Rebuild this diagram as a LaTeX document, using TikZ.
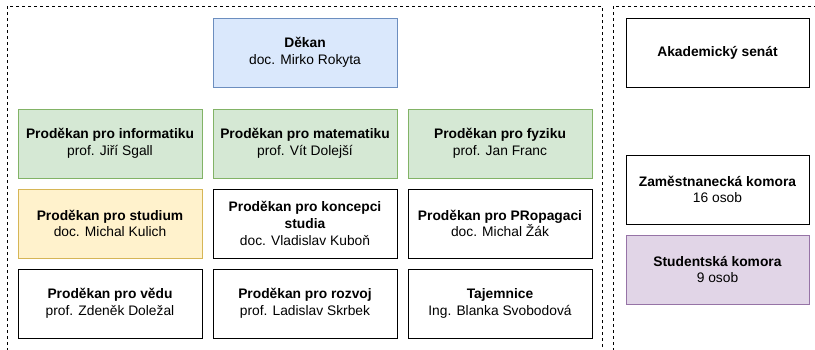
\documentclass[tikz,border=0pt]{standalone}
\usepackage{fontspec}
\setmainfont{Liberation Sans}
\definecolor{bluefill}{HTML}{DAE8FC}\definecolor{bluedraw}{HTML}{6C8EBF}
\definecolor{greenfill}{HTML}{D5E8D4}\definecolor{greendraw}{HTML}{82B366}
\definecolor{yellowfill}{HTML}{FFF2CC}\definecolor{yellowdraw}{HTML}{D6B656}
\definecolor{purplefill}{HTML}{E1D5E7}\definecolor{purpledraw}{HTML}{9673A6}
\tikzset{
  box/.style={draw=black, fill=white, line width=1pt, rectangle, inner sep=0pt,
    minimum width=184pt, minimum height=69pt, align=center,
    font=\fontsize{13.8}{16.6}\selectfont},
  bluebox/.style={box, draw=bluedraw, fill=bluefill},
  greenbox/.style={box, draw=greendraw, fill=greenfill},
  yellowbox/.style={box, draw=yellowdraw, fill=yellowfill},
  purplebox/.style={box, draw=purpledraw, fill=purplefill},
  container/.style={draw=black, line width=1pt, dash pattern=on 3pt off 3pt}
}
\begin{document}
\begin{tikzpicture}[x=1pt,y=-1pt]
\useasboundingbox (0,0) rectangle (815,349);
\begin{scope}
\clip (0,0) rectangle (815,349);
\draw[container] (7,6) rectangle (602,365);
\draw[container] (613,6) rectangle (830,365);
\end{scope}
\node[bluebox] (dekan) at (305,52.5) {\textbf{Děkan}\\doc. Mirko Rokyta};
\node[greenbox] (inf) at (110,143.5) {\textbf{Proděkan pro informatiku}\\prof. Jiří Sgall};
\node[greenbox] (mat) at (305,143.5) {\textbf{Proděkan pro matematiku}\\prof. Vít Dolejší};
\node[greenbox] (fyz) at (500,143.5) {\textbf{Proděkan pro fyziku}\\prof. Jan Franc};
\node[yellowbox] (stu) at (110,223.5) {\textbf{Proděkan pro studium}\\doc. Michal Kulich};
\node[box] (kon) at (305,223.5) {\textbf{Proděkan pro koncepci}\\\textbf{studia}\\doc. Vladislav Kuboň};
\node[box] (pro) at (500,223.5) {\textbf{Proděkan pro PRopagaci}\\doc. Michal Žák};
\node[box] (ved) at (110,303.5) {\textbf{Proděkan pro vědu}\\prof. Zdeněk Doležal};
\node[box] (roz) at (305,303.5) {\textbf{Proděkan pro rozvoj}\\prof. Ladislav Skrbek};
\node[box] (taj) at (500,303.5) {\textbf{Tajemnice}\\Ing. Blanka Svobodová};
\node[box, minimum width=183pt] (senat) at (717.5,52.5) {\textbf{Akademický senát}};
\node[box, minimum width=183pt] (zam) at (717.5,189.5) {\textbf{Zaměstnanecká komora}\\16 osob};
\node[purplebox, minimum width=183pt] (stk) at (717.5,269.5) {\textbf{Studentská komora}\\9 osob};
\end{tikzpicture}
\end{document}
